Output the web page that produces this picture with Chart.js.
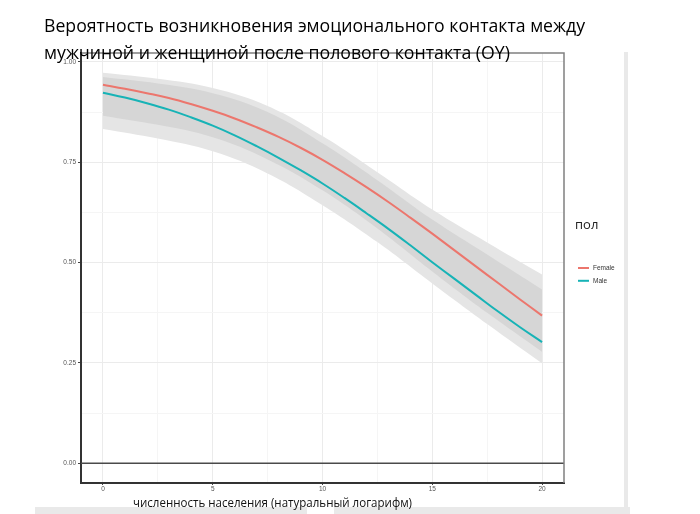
<!DOCTYPE html>
<html><head><meta charset="utf-8">
<script src="https://cdn.jsdelivr.net/npm/chart.js@4.4.0/dist/chart.umd.min.js"></script>
<style>html,body{margin:0;padding:0;background:#fff;overflow:hidden}canvas{display:block}</style>
</head><body>
<canvas id="c" width="700" height="514"></canvas>
<script>
// ---- data ----
const xLine  = [0,1,2,3,4,5,6,7,8,9,10,11,12,13,14,15,16,17,18,19,20];
const female = [0.943,0.933,0.922,0.910,0.895,0.878,0.859,0.837,0.813,0.786,0.756,0.723,0.688,0.651,0.612,0.572,0.531,0.490,0.449,0.408,0.368];
const male   = [0.923,0.911,0.897,0.881,0.862,0.841,0.817,0.790,0.761,0.730,0.697,0.661,0.623,0.584,0.543,0.501,0.460,0.419,0.378,0.339,0.302];
const xBand          = [0, 2.5, 5, 7.5, 10, 12.5, 15, 17.5, 20];
const bandOuterUpper = [0.973, 0.958, 0.935, 0.890, 0.815, 0.725, 0.632, 0.550, 0.470];
const bandInnerUpper = [0.962, 0.946, 0.922, 0.875, 0.797, 0.705, 0.607, 0.520, 0.433];
const bandInnerLower = [0.866, 0.843, 0.812, 0.757, 0.680, 0.585, 0.478, 0.375, 0.278];
const bandOuterLower = [0.833, 0.809, 0.777, 0.722, 0.643, 0.551, 0.448, 0.347, 0.249];
const xTicks = [0, 5, 10, 15, 20];
const xMinor = [2.5, 7.5, 12.5, 17.5];
const yTicks = [0, 0.25, 0.5, 0.75, 1];
const yMinor = [0.125, 0.375, 0.625, 0.875];
const hlineValue = 0;
const seriesNames = ['Female', 'Male'];
const titleLines = ['Вероятность возникновения эмоционального контакта между',
                    'мужчиной и женщиной после полового контакта (OY)'];
const xTitle = 'численность населения (натуральный логарифм)';
const legendTitle = 'пол';

const pts = (xs, arr) => arr.map((v, i) => ({x: xs[i], y: v}));
const FEMALE_C = '#EC766D', MALE_C = '#17B3B6';

function fitText(ctx, text, x, y, size, family, targetW, color) {
  ctx.save();
  ctx.font = size + 'px ' + family;
  const w = ctx.measureText(text).width;
  ctx.translate(x, y);
  ctx.scale(targetW / w, 1);
  ctx.fillStyle = color;
  ctx.textBaseline = 'alphabetic';
  ctx.fillText(text, 0, 0);
  ctx.restore();
}

const decor = {
  id: 'decor',
  beforeDraw(chart) {
    const ctx = chart.ctx;
    ctx.save();
    ctx.fillStyle = '#fff'; ctx.fillRect(0, 0, 700, 514);
    ctx.fillStyle = '#e9e9e9';
    ctx.fillRect(35, 507, 272, 7);
    ctx.fillRect(334, 507, 296, 7);
    ctx.fillRect(624, 52, 4, 455);
    ctx.restore();
  },
  afterDatasetsDraw(chart) {
    const {ctx, chartArea: a, scales: {y}} = chart;
    const py = y.getPixelForValue(hlineValue);
    ctx.save();
    ctx.strokeStyle = '#4a4a4a'; ctx.lineWidth = 1.5;
    ctx.beginPath(); ctx.moveTo(a.left, py); ctx.lineTo(a.right, py); ctx.stroke();
    ctx.strokeStyle = '#808080'; ctx.lineWidth = 1.5;
    ctx.beginPath(); ctx.moveTo(a.left, a.top); ctx.lineTo(a.right, a.top); ctx.lineTo(a.right, a.bottom); ctx.stroke();
    ctx.restore();
  },
  afterDraw(chart) {
    const ctx = chart.ctx;
    ctx.save();
    ctx.fillStyle = '#222';
    ctx.font = '13px "Open Sans"';
    ctx.textBaseline = 'alphabetic';
    ctx.fillText(legendTitle, 575, 229);
    const ds = chart.data.datasets.filter(d => d.inLegend);
    ds.forEach((d, i) => {
      const yy = 268 + i * 12.8;
      ctx.strokeStyle = d.borderColor; ctx.lineWidth = 2;
      ctx.beginPath(); ctx.moveTo(578, yy); ctx.lineTo(589, yy); ctx.stroke();
      ctx.fillStyle = '#333';
      ctx.font = '6.5px "Liberation Sans"';
      ctx.textBaseline = 'middle';
      ctx.fillText(d.label, 593, yy + 0.5);
    });
    ctx.restore();
    fitText(ctx, titleLines[0], 44, 32, 19, '"Open Sans"', 541, '#000');
    fitText(ctx, titleLines[1], 44, 59, 19, '"Open Sans"', 466, '#000');
    fitText(ctx, xTitle, 133, 507, 13, '"Open Sans"', 279, '#111');
  }
};

const lineBase = {borderWidth: 2, pointRadius: 0, fill: false, tension: 0.4};
const bandBase = {borderWidth: 0, pointRadius: 0, tension: 0.4, borderColor: 'transparent'};

new Chart(document.getElementById('c'), {
  type: 'line',
  data: {
    datasets: [
      {...lineBase, label: seriesNames[0], data: pts(xLine, female), borderColor: FEMALE_C, inLegend: true},
      {...lineBase, label: seriesNames[1], data: pts(xLine, male), borderColor: MALE_C, inLegend: true},
      {...bandBase, label: 'ci_in_hi', data: pts(xBand, bandInnerUpper), fill: '+1', backgroundColor: '#d6d6d6'},
      {...bandBase, label: 'ci_in_lo', data: pts(xBand, bandInnerLower), fill: false},
      {...bandBase, label: 'ci_out_hi', data: pts(xBand, bandOuterUpper), fill: '+1', backgroundColor: '#e5e5e5'},
      {...bandBase, label: 'ci_out_lo', data: pts(xBand, bandOuterLower), fill: false}
    ]
  },
  options: {
    responsive: false, animation: false, devicePixelRatio: 1,
    layout: {padding: {left: 0, top: 53, right: 136, bottom: 0}},
    plugins: {legend: {display: false}, tooltip: {enabled: false}, title: {display: false}},
    scales: {
      x: {
        type: 'linear', min: -1, max: 21,
        afterBuildTicks: s => { s.ticks = [...xTicks, ...xMinor].sort((a, b) => a - b).map(v => ({value: v})); },
        afterFit: s => { s.height = 31; },
        ticks: {autoSkip: false, maxRotation: 0, padding: 0, color: '#555',
                font: {family: 'Liberation Sans', size: 6.5},
                callback: v => xTicks.includes(v) ? String(v) : ''},
        grid: {
          color: c => xTicks.includes(c.tick.value) ? '#ebebeb' : '#f5f5f5',
          lineWidth: 1, tickLength: 2,
          tickColor: c => xTicks.includes(c.tick.value) ? '#444' : 'rgba(0,0,0,0)'
        },
        border: {color: '#333', width: 2}
      },
      y: {
        type: 'linear', min: -0.049, max: 1.022,
        afterBuildTicks: s => { s.ticks = [...yTicks, ...yMinor].sort((a, b) => a - b).map(v => ({value: v})); },
        afterFit: s => { s.width = 81; },
        ticks: {autoSkip: false, padding: 2, color: '#555',
                font: {family: 'Liberation Sans', size: 6.5},
                callback: v => yTicks.includes(v) ? v.toFixed(2) : ''},
        grid: {
          color: c => yTicks.includes(c.tick.value) ? '#ebebeb' : '#f5f5f5',
          lineWidth: 1, tickLength: 3,
          tickColor: c => yTicks.includes(c.tick.value) ? '#444' : 'rgba(0,0,0,0)'
        },
        border: {color: '#333', width: 2}
      }
    }
  },
  plugins: [decor]
});
</script>
</body></html>
